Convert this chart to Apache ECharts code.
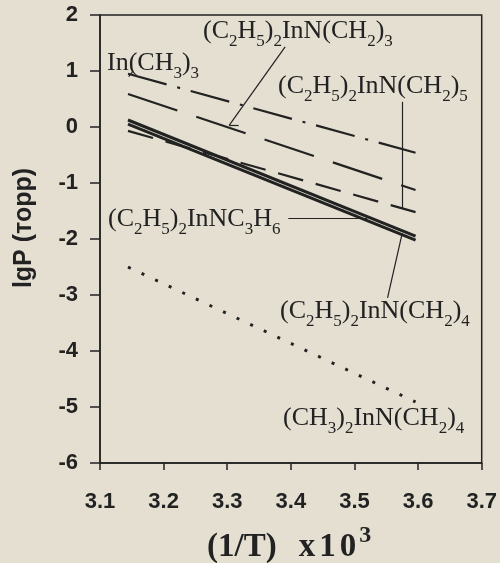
<!DOCTYPE html>
<html><head><meta charset="utf-8">
<script src="https://cdn.jsdelivr.net/npm/echarts@6/dist/echarts.min.js"></script>
<style>html,body{margin:0;padding:0;background:#e4dfd1}#c{width:500px;height:563px}</style>
</head><body><div id="c"></div>
<script>
// data
var xEnds = [3.144, 3.596];
var inMe3 = [0.95, -0.46];          // In(CH3)3  dash-dot
var et2N3 = [0.59, -1.125];         // (C2H5)2InN(CH2)3  long dash
var et2N5 = [-0.07, -1.52];         // (C2H5)2InN(CH2)5  dash
var et2NC3H6 = [0.125, -1.95];      // (C2H5)2InNC3H6  solid
var et2N4 = [0.05, -2.02];          // (C2H5)2InN(CH2)4 solid
var me2N4 = [-2.5, -4.91];          // (CH3)2InN(CH2)4 dotted
var xTicks = ['3.1','3.2','3.3','3.4','3.5','3.6','3.7'];
var yTicks = ['-6','-5','-4','-3','-2','-1','0','1','2'];

var INK = '#222';
function pts(ys){ return xEnds.map(function(x,i){return [x, ys[i]];}); }
function ser(name, ys, type, w){
  return {name:name, type:'line', data:pts(ys), symbol:'none', silent:true,
    lineStyle:{color:INK, width:w, type:type, cap:'butt'}};
}
var series = [
  ser('In(CH3)3', inMe3, [40,11,3,11], 2.2),
  ser('(C2H5)2InN(CH2)3', et2N3, [52,20], 2.2),
  ser('(C2H5)2InN(CH2)5', et2N5, [26,13], 2.2),
  ser('(C2H5)2InNC3H6', et2NC3H6, 'solid', 3),
  ser('(C2H5)2InN(CH2)4', et2N4, 'solid', 3),
  ser('(CH3)2InN(CH2)4', me2N4, [3,12], 3)
];
// leader lines (annotation)
series.push({type:'line', data:[], silent:true, markLine:{symbol:'none', silent:true, label:{show:false},
  lineStyle:{color:INK, width:1.2, type:'solid'},
  data:[
    [{coord:[3.391,1.43]},{coord:[3.303,0.03]}],
    [{coord:[3.303,0.03]},{coord:[3.318,0.03]}],
    [{coord:[3.575,0.45]},{coord:[3.575,-1.45]}],
    [{coord:[3.396,-1.63]},{coord:[3.52,-1.63]}],
    [{coord:[3.575,-1.9]},{coord:[3.552,-3.05]}],
    [{coord:[3.152,1.0]},{coord:[3.145,0.9]}]
  ]}});

var rich = {
  b:{fontFamily:'Liberation Serif', fontSize:26, lineHeight:32, color:INK, verticalAlign:'top'},
  s:{fontFamily:'Liberation Serif', fontSize:17, lineHeight:17, color:INK, padding:[15,0,0,0]}
};
function lab(x, y, txt){
  return {type:'text', left:x, top:y, silent:true, style:{text:txt, rich:rich, fill:INK}};
}
var chart = echarts.init(document.getElementById('c'));
chart.setOption({
  backgroundColor:'#e4dfd1',
  animation:false,
  grid:{left:100, right:15, top:15, bottom:100, show:true, borderColor:INK, borderWidth:1.5},
  xAxis:{type:'value', min:3.1, max:3.7, interval:0.1,
    axisLine:{onZero:false, lineStyle:{color:INK, width:1.5}},
    axisTick:{length:7, lineStyle:{color:INK, width:1.5}},
    splitLine:{show:false},
    axisLabel:{margin:28, color:INK, fontFamily:'Liberation Sans', fontWeight:'bold', fontSize:22,
      formatter:function(v){ var s=v.toFixed(1); return xTicks.indexOf(s)>=0?s:''; }}},
  yAxis:{type:'value', min:-6, max:2, interval:1,
    axisLine:{onZero:false, lineStyle:{color:INK, width:1.5}},
    axisTick:{length:10, lineStyle:{color:INK, width:1.5}},
    splitLine:{show:false},
    axisLabel:{margin:22, color:INK, fontFamily:'Liberation Sans', fontWeight:'bold', fontSize:22,
      formatter:function(v){ var s=String(Math.round(v)); return yTicks.indexOf(s)>=0?s:''; }}},
  series:series,
  graphic:[
    lab(203, 18, '{b|(C}{s|2}{b|H}{s|5}{b|)}{s|2}{b|InN(CH}{s|2}{b|)}{s|3}'),
    lab(107, 50, '{b|In(CH}{s|3}{b|)}{s|3}'),
    lab(278, 73, '{b|(C}{s|2}{b|H}{s|5}{b|)}{s|2}{b|InN(CH}{s|2}{b|)}{s|5}'),
    lab(108, 206, '{b|(C}{s|2}{b|H}{s|5}{b|)}{s|2}{b|InNC}{s|3}{b|H}{s|6}'),
    lab(280, 298, '{b|(C}{s|2}{b|H}{s|5}{b|)}{s|2}{b|InN(CH}{s|2}{b|)}{s|4}'),
    lab(283, 405, '{b|(CH}{s|3}{b|)}{s|2}{b|InN(CH}{s|2}{b|)}{s|4}'),
    {type:'text', left:207, top:524, silent:true, style:{
      text:'{m|(1/T)}{x|x}{n|1}{n|0}{p|3}', fill:INK,
      rich:{m:{fontFamily:'Liberation Serif', fontWeight:'bold', fontSize:33, lineHeight:40, color:INK, verticalAlign:'bottom'},
            x:{fontFamily:'Liberation Serif', fontWeight:'bold', fontSize:33, lineHeight:40, color:INK, verticalAlign:'bottom', padding:[0,0,0,22]},
            n:{fontFamily:'Liberation Serif', fontWeight:'bold', fontSize:33, lineHeight:40, color:INK, verticalAlign:'bottom', padding:[0,0,0,4]},
            p:{fontFamily:'Liberation Serif', fontWeight:'bold', fontSize:24, lineHeight:24, color:INK, verticalAlign:'top', padding:[0,0,0,3]}}}},
    {type:'text', x:24, y:228, rotation:Math.PI/2, silent:true, style:{
      text:'lgP (торр)', fill:INK, font:'bold 25px "Liberation Sans"', align:'center', verticalAlign:'middle'}}
  ]
});
</script></body></html>
